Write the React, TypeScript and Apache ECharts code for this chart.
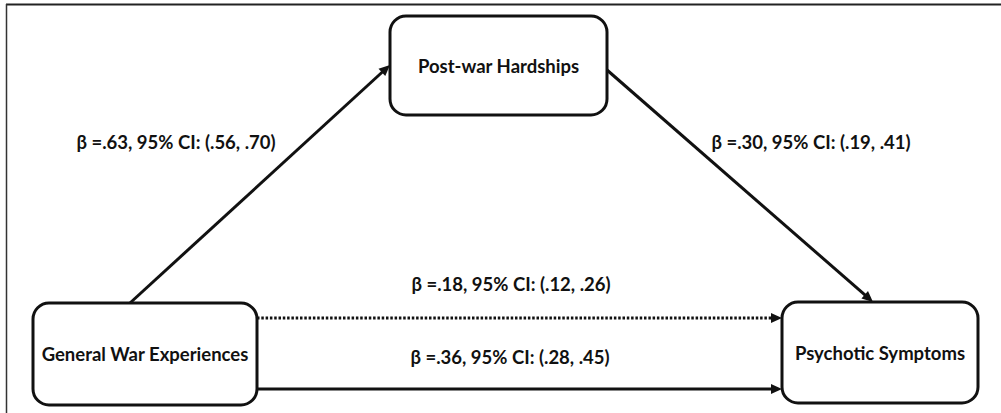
import React, { useEffect, useRef } from "react";
import * as echarts from "echarts";

// ---------- data ----------
const nodeNames = ["General War Experiences", "Post-war Hardships", "Psychotic Symptoms"];
const pathFrom = [0, 1, 0, 0];
const pathTo = [1, 2, 2, 2];
const pathKind = ["a", "b", "direct", "total"];
const pathBeta = [".63", ".30", ".18", ".36"];
const pathCiLow = [".56", ".19", ".12", ".28"];
const pathCiHigh = [".70", ".41", ".26", ".45"];

// ---------- layout (pixels in a 1001 x 413 frame) ----------
const W = 1001;
const H = 413;
// x, y, width, height of each node box
const nodeBox: number[][] = [
  [33, 303, 224, 102],
  [390, 16, 217, 99],
  [782, 302, 196, 101],
];
// endpoint anchors: [side, position along that side]
const pathStartAnchor: [string, number][] = [
  ["top", 130],
  ["right", 70],
  ["right", 318],
  ["right", 389],
];
const pathEndAnchor: [string, number][] = [
  ["left", 65],
  ["top", 873],
  ["left", 318],
  ["left", 389],
];
const pathLabelPos: number[][] = [
  [176, 142],
  [811, 142],
  [511, 284],
  [510, 357],
];

const FONT = "Lato, 'Open Sans', sans-serif";
const FONT_SIZE = 18.5;
const INK = "#111";

function anchorPoint(box: number[], a: [string, number]): number[] {
  const [x, y, w, h] = box;
  switch (a[0]) {
    case "top":
      return [a[1], y];
    case "bottom":
      return [a[1], y + h];
    case "left":
      return [x, a[1]];
    default:
      return [x + w, a[1]];
  }
}

const nodeData = nodeNames.map((name, i) => {
  const [x, y, w, h] = nodeBox[i];
  return { name, value: [x + w / 2, y + h / 2, i] };
});

const pathData = pathFrom.map((f, i) => {
  const p1 = anchorPoint(nodeBox[f], pathStartAnchor[i]);
  const p2 = anchorPoint(nodeBox[pathTo[i]], pathEndAnchor[i]);
  return {
    name: `β =${pathBeta[i]}, 95% CI: (${pathCiLow[i]}, ${pathCiHigh[i]})`,
    value: [p1[0], p1[1], p2[0], p2[1], i],
  };
});

export default function App() {
  const ref = useRef<HTMLDivElement>(null);
  useEffect(() => {
    document.body.style.margin = "0";
    const chart = echarts.init(ref.current!, null, { renderer: "svg" });
    const option: any = {
      animation: false,
      backgroundColor: "#fff",
      grid: { left: 0, right: 0, top: 0, bottom: 0, containLabel: false },
      xAxis: { type: "value", min: 0, max: W, show: false },
      yAxis: { type: "value", min: 0, max: H, inverse: true, show: false },
      graphic: [
        {
          type: "line",
          shape: { x1: 6, y1: 4.5, x2: W, y2: 4.5 },
          style: { stroke: "#222", lineWidth: 2 },
          silent: true,
        },
        {
          type: "line",
          shape: { x1: 6.5, y1: 4, x2: 6.5, y2: H },
          style: { stroke: "#333", lineWidth: 1.5 },
          silent: true,
        },
      ],
      series: [
        {
          type: "custom",
          name: "paths",
          coordinateSystem: "cartesian2d",
          encode: { x: [0, 2], y: [1, 3] },
          data: pathData,
          z: 2,
          renderItem: (params: any, api: any) => {
            const i = api.value(4);
            const a = api.coord([api.value(0), api.value(1)]);
            const b = api.coord([api.value(2), api.value(3)]);
            const dx = b[0] - a[0];
            const dy = b[1] - a[1];
            const len = Math.sqrt(dx * dx + dy * dy);
            const ux = dx / len;
            const uy = dy / len;
            const headL = 11;
            const headW = 5;
            const bx = b[0] - ux * headL;
            const by = b[1] - uy * headL;
            const dotted = pathKind[i] === "direct";
            const lp = api.coord(pathLabelPos[i]);
            return {
              type: "group",
              children: [
                {
                  type: "line",
                  shape: { x1: a[0], y1: a[1], x2: bx + ux * 1, y2: by + uy * 1 },
                  style: {
                    stroke: INK,
                    lineWidth: 3,
                    lineDash: dotted ? [2.5, 1.8] : null,
                    lineCap: "butt",
                  },
                },
                {
                  type: "polygon",
                  shape: {
                    points: [
                      [b[0], b[1]],
                      [bx - uy * headW, by + ux * headW],
                      [bx + uy * headW, by - ux * headW],
                    ],
                  },
                  style: { fill: INK },
                },
                {
                  type: "text",
                  x: lp[0],
                  y: lp[1],
                  style: {
                    text: pathData[i].name,
                    font: `bold ${FONT_SIZE}px ${FONT}`,
                    fill: INK,
                    align: "center",
                    verticalAlign: "middle",
                  },
                },
              ],
            };
          },
        },
        {
          type: "custom",
          name: "nodes",
          coordinateSystem: "cartesian2d",
          encode: { x: 0, y: 1 },
          data: nodeData,
          z: 3,
          renderItem: (params: any, api: any) => {
            const i = api.value(2);
            const [x, y, w, h] = nodeBox[i];
            const p0 = api.coord([x, y]);
            const p1 = api.coord([x + w, y + h]);
            const c = api.coord([api.value(0), api.value(1)]);
            return {
              type: "group",
              children: [
                {
                  type: "rect",
                  shape: { x: p0[0], y: p0[1], width: p1[0] - p0[0], height: p1[1] - p0[1], r: 16 },
                  style: { fill: "#fff", stroke: INK, lineWidth: 3 },
                },
                {
                  type: "text",
                  x: c[0],
                  y: c[1],
                  style: {
                    text: nodeNames[i],
                    font: `bold ${FONT_SIZE}px ${FONT}`,
                    fill: INK,
                    align: "center",
                    verticalAlign: "middle",
                  },
                },
              ],
            };
          },
        },
      ],
    };
    chart.setOption(option);
    return () => chart.dispose();
  }, []);
  return <div ref={ref} style={{ width: W, height: H, background: "#fff" }} />;
}
